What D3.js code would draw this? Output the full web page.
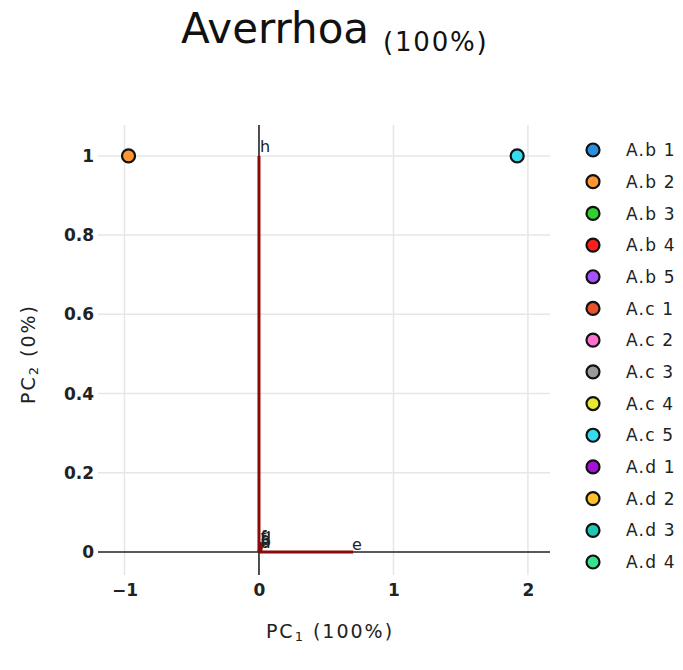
<!DOCTYPE html>
<html><head><meta charset="utf-8">
<script src="https://cdn.jsdelivr.net/npm/d3@7/dist/d3.min.js"></script>
<style>body{margin:0;background:#fff}svg{display:block}</style>
</head><body>
<svg id="c" width="683" height="670"></svg>
<script>
const seriesNames = ["A.b 1","A.b 2","A.b 3","A.b 4","A.b 5","A.c 1","A.c 2","A.c 3","A.c 4","A.c 5","A.d 1","A.d 2","A.d 3","A.d 4"];
const seriesColors = ["#2b8fe0","#ff9632","#2fd12f","#ff1e1e","#a650ff","#e8522c","#ff6fcf","#9a9a9a","#e8e82e","#33dcef","#a412d8","#ffc12a","#22c6b4","#35e28e"];
// score points: [series index, PC1, PC2]
const scorePoints = [[1,-0.97,1.0],[9,1.92,1.0]];
const loadingNames = ["h","e","a","b","c","d","f","g"];
const loadingPC1 = [0.0,0.70,0.02,0.02,0.02,0.02,0.02,0.02];
const loadingPC2 = [1.0,0.0,0.005,0.008,0.012,0.015,0.02,0.025];
const xTicks = [-1,0,1,2];
const yTicks = [0,0.2,0.4,0.6,0.8,1];

const svg = d3.select("#c");
const font = "'DejaVu Sans', Verdana, sans-serif";
const x = d3.scaleLinear().domain([-1.197,2.164]).range([98,550]);
const y = d3.scaleLinear().domain([-0.058,1.078]).range([575,125]);

// grid
svg.append("g").selectAll("line").data(xTicks.filter(d=>d!==0)).join("line")
  .attr("x1",d=>x(d)).attr("x2",d=>x(d)).attr("y1",125).attr("y2",575)
  .attr("stroke","#e6e6e6").attr("stroke-width",1.5);
svg.append("g").selectAll("line").data(yTicks.filter(d=>d!==0)).join("line")
  .attr("y1",d=>y(d)).attr("y2",d=>y(d)).attr("x1",98).attr("x2",550)
  .attr("stroke","#e6e6e6").attr("stroke-width",1.5);
// zero lines
svg.append("line").attr("x1",98).attr("x2",550).attr("y1",y(0)).attr("y2",y(0)).attr("stroke","#222").attr("stroke-width",1.6);
svg.append("line").attr("x1",x(0)).attr("x2",x(0)).attr("y1",125).attr("y2",575).attr("stroke","#222").attr("stroke-width",1.6);

// axes
const xAxis = svg.append("g").attr("transform",`translate(0,${575})`)
  .call(d3.axisBottom(x).tickValues(xTicks).tickSize(0).tickPadding(9).tickFormat(d=>d<0?"\u22121":String(d)));
xAxis.select(".domain").remove();
xAxis.selectAll("text").attr("font-family",font).attr("font-size",17).attr("fill","#222").attr("font-weight","bold").attr("dy","0.72em");
const yAxis = svg.append("g").attr("transform",`translate(${94},0)`)
  .call(d3.axisLeft(y).tickValues(yTicks).tickSize(0).tickPadding(0).tickFormat(d=>String(d)));
yAxis.select(".domain").remove();
yAxis.selectAll("text").attr("font-family",font).attr("font-size",17).attr("fill","#222").attr("font-weight","bold");

// loadings
const loads = loadingNames.map((n,i)=>({n,a:loadingPC1[i],b:loadingPC2[i]}));
svg.append("g").selectAll("line").data(loads).join("line")
  .attr("x1",x(0)).attr("y1",y(0)).attr("x2",d=>x(d.a)).attr("y2",d=>y(d.b))
  .attr("stroke","#8a0a0a").attr("stroke-width",3);
svg.append("g").selectAll("text").data(loads).join("text")
  .attr("x",d=>x(d.a)+(d.n==="h"?1:-1)).attr("y",d=>y(d.b)-(d.n==="h"?4:2))
  .attr("font-family",font).attr("font-size",16).attr("fill","#222").text(d=>d.n);

// scores
svg.append("g").selectAll("circle").data(scorePoints).join("circle")
  .attr("cx",d=>x(d[1])).attr("cy",d=>y(d[2])).attr("r",6.5)
  .attr("fill",d=>seriesColors[d[0]]).attr("stroke","#111").attr("stroke-width",2.2);

// legend
const ly = d3.scalePoint().domain(seriesNames).range([150,562]);
const lg = svg.append("g").selectAll("g").data(seriesNames).join("g")
  .attr("transform",d=>`translate(0,${ly(d)})`);
lg.append("circle").attr("cx",593).attr("cy",0).attr("r",6.5)
  .attr("fill",(d,i)=>seriesColors[i]).attr("stroke","#111").attr("stroke-width",2.2);
lg.append("text").attr("x",626).attr("y",0).attr("dy","0.36em")
  .attr("font-family",font).attr("font-size",17).attr("letter-spacing",1.2).attr("fill","#222").text(d=>d);

// title
const t = svg.append("text").attr("x",181).attr("y",43).attr("font-family",font).attr("fill","#111");
t.append("tspan").attr("font-size",42).text("Averrhoa");
t.append("tspan").attr("font-size",26).attr("letter-spacing",1.8).attr("dx",14).attr("dy",8).text("(100%)");

// axis titles
const xt = svg.append("text").attr("x",330).attr("y",638).attr("text-anchor","middle").attr("font-family",font).attr("font-size",19).attr("letter-spacing",2).attr("fill","#222");
xt.append("tspan").text("PC");
xt.append("tspan").attr("font-size",13).attr("dy",3).text("1");
xt.append("tspan").attr("dy",-3).text(" (100%)");
const yt = svg.append("text").attr("transform","translate(35,354) rotate(-90)").attr("text-anchor","middle").attr("font-family",font).attr("font-size",19).attr("letter-spacing",2).attr("fill","#222");
yt.append("tspan").text("PC");
yt.append("tspan").attr("font-size",13).attr("dy",3).text("2");
yt.append("tspan").attr("dy",-3).text(" (0%)");
</script>
</body></html>
